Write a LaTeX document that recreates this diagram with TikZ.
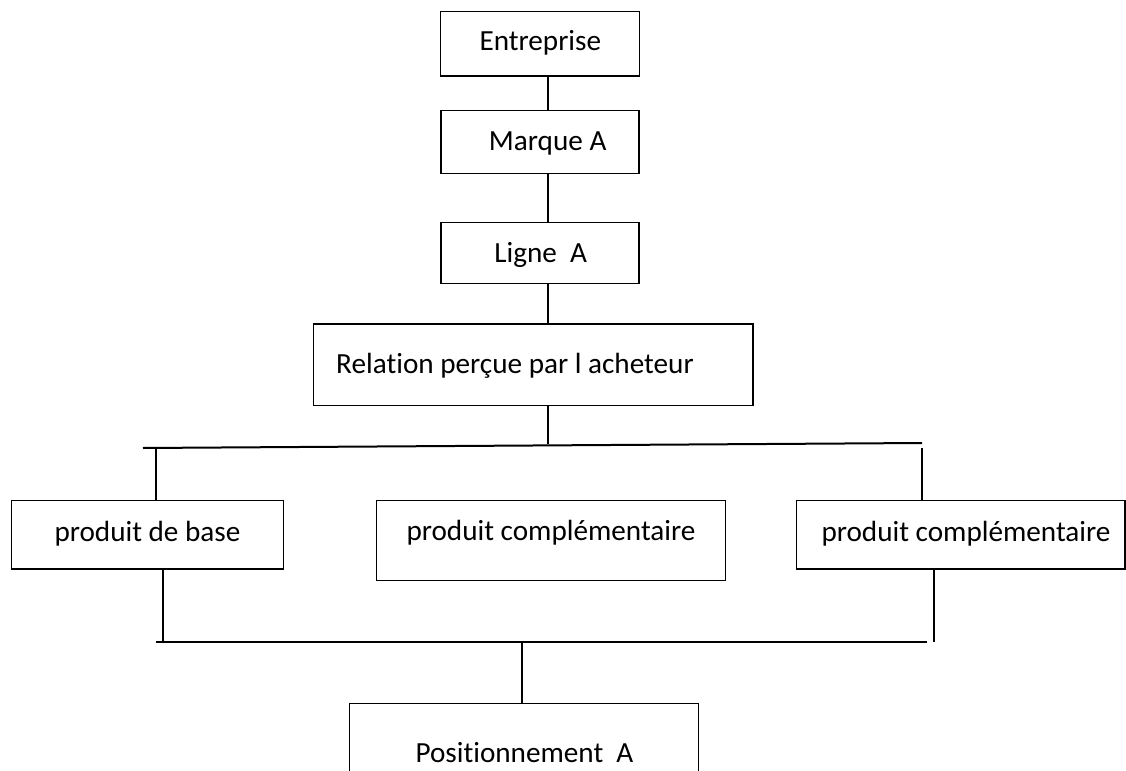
\documentclass[tikz,border=0pt]{standalone}
\usepackage{fontspec}
\setmainfont{Carlito}[Ligatures=CommonOff]
\begin{document}
\begin{tikzpicture}[x=0.5pt,y=-0.5pt,
  box/.style={draw, rectangle, line width=0.75pt, inner sep=0pt, outer sep=0pt},
  txt/.style={inner sep=0pt, anchor=base, font=\fontsize{14.6}{17}\selectfont},
  conn/.style={line width=1pt}]
\clip (0,0) rectangle (1126,771);
\fill[white] (0,0) rectangle (1126,771);
% boxes
\node[box, minimum width=99.3pt, minimum height=32.35pt] (ent) at (540,43.65) {};
\node[box, minimum width=99pt, minimum height=31.5pt] (mar) at (540,142.2) {};
\node[box, minimum width=99pt, minimum height=30.3pt] (lig) at (540,253) {};
\node[box, minimum width=219.65pt, minimum height=40.85pt] (rel) at (533.35,364.85) {};
\node[box, minimum width=136pt, minimum height=34.15pt] (base) at (147.7,534.85) {};
\node[box, minimum width=174.5pt, minimum height=40pt] (mid) at (551.2,540.7) {};
\node[box, minimum width=164.15pt, minimum height=34.15pt] (rc) at (960.85,534.85) {};
\node[box, minimum width=174.5pt, minimum height=48.35pt] (pos) at (523.8,751.65) {};
% texts
\node[txt] (tent) at (540.3,50.3) {Entreprise};
\node[txt] (tmar) at (547.7,150.3) {Marque A};
\node[txt] (tlig) at (540.8,262.5) {Ligne\ \ A};
\node[txt] (trel) at (515,373) {Relation perçue par l acheteur};
\node[txt] (tbase) at (147.5,541) {produit de base};
\node[txt] (tmid) at (551,540.5) {produit complémentaire};
\node[txt] (trc) at (966,541) {produit complémentaire};
\node[txt] (tpos) at (524.5,762) {Positionnement\ \ A};
% connector coordinates
\coordinate (cx) at (548,0);
\coordinate (tl) at (143,448);
\coordinate (tr) at (922,443);
\coordinate (tj) at (548,444.3);
\coordinate (ld) at (156,448);
\coordinate (rd) at (921.7,448.3);
\coordinate (bl) at (155.7,641.7);
\coordinate (br) at (926.7,641.7);
\coordinate (lu) at (163.3,641.7);
\coordinate (ru) at (933.7,641.7);
\coordinate (bj) at (522.3,641.7);
% connectors
\draw[conn] (ent.south -| cx) -- (mar.north -| cx);
\draw[conn] (mar.south -| cx) -- (lig.north -| cx);
\draw[conn] (lig.south -| cx) -- (rel.north -| cx);
\draw[conn] (rel.south -| cx) -- (tj);
\draw[conn] (tl) -- (tr);
\draw[conn] (ld) -- (base.north -| ld);
\draw[conn] (rd) -- (rc.north -| rd);
\draw[conn] (bl) -- (br);
\draw[conn] (base.south -| lu) -- (lu);
\draw[conn] (rc.south -| ru) -- (ru);
\draw[conn] (bj) -- (pos.north -| bj);
\end{tikzpicture}
\end{document}
